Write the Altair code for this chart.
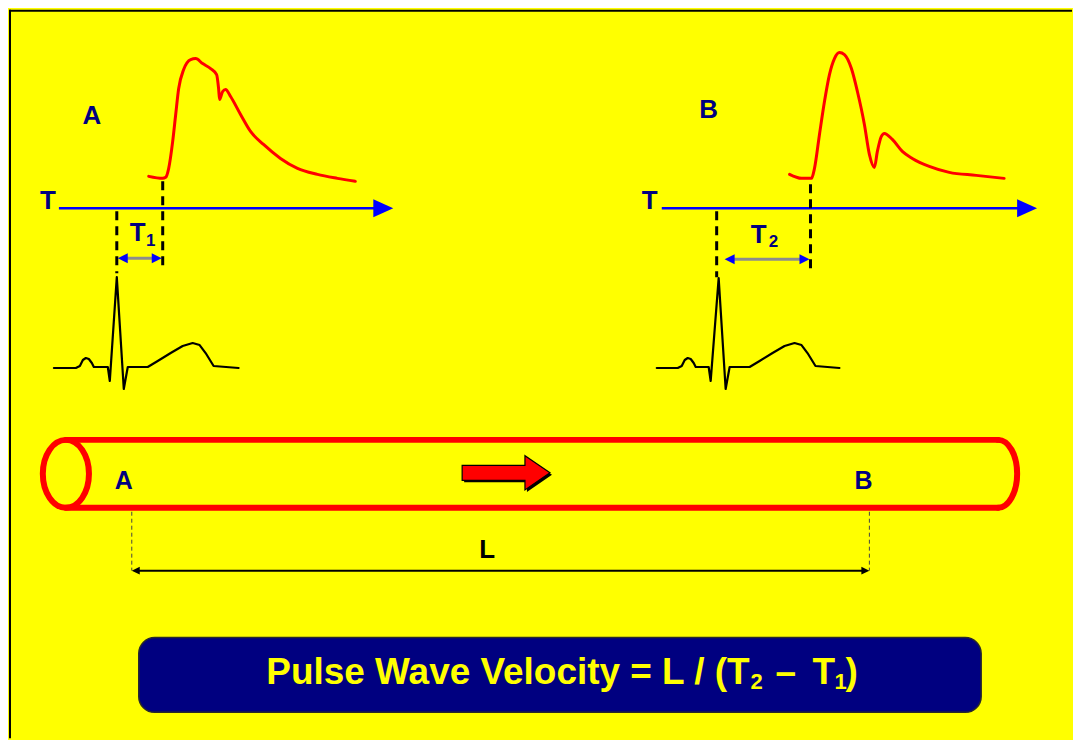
import altair as alt
import pandas as pd

# ---------------- values (slide pixel space) ----------------
# pressure pulse recorded at site A
pulse_a_x = [148, 162, 165, 168, 172, 175, 178, 183, 190, 195, 202, 210, 216, 218, 219, 222, 225, 230, 240, 250, 263, 280, 297, 317, 337, 355]
pulse_a_y = [175, 177, 176, 167, 140, 113, 87, 68, 58, 57, 62, 67, 73, 87, 98, 90, 88, 95, 113, 130, 143, 157, 167, 173, 177, 180]
# pressure pulse recorded at site B
pulse_b_x = [790, 802, 812, 815, 820, 825, 830, 835, 840, 845, 852, 858, 865, 870, 875, 878, 882, 885, 893, 903, 913, 930, 950, 977, 1005]
pulse_b_y = [173, 177, 177, 167, 133, 100, 73, 57, 51, 53, 67, 90, 123, 153, 166, 150, 135, 132, 138, 150, 157, 165, 171, 174, 177]
# ECG traces
ecg_a_x = [53, 75, 79, 82, 85, 88, 91, 93, 107, 109, 116, 123, 127, 147, 157, 170, 182, 192, 199, 205, 213, 238]
ecg_a_y = [367, 367, 365, 359, 357, 358, 362, 366, 366, 380, 276, 388, 366, 366, 360, 352, 345, 342, 344, 352, 365, 367]
ecg_b_x = [657, 678, 682, 685, 688, 691, 694, 696, 709, 711, 719, 726, 730, 750, 760, 773, 785, 795, 802, 808, 816, 840]
ecg_b_y = [367, 367, 365, 359, 357, 358, 362, 366, 366, 380, 277, 388, 366, 366, 360, 352, 345, 342, 344, 352, 365, 367]

# time axes (start x, end x, y, arrow-head centre x)
axis_x1 = [58, 662]
axis_x2 = [375, 1020]
axis_y = [207, 207]
axis_head_x = [383, 1028]

# dashed drop lines (x, y top, y bottom)
drop_x = [116, 162, 717, 811]
drop_y1 = [210, 180, 210, 183]
drop_y2 = [272, 268, 276, 268]

# T1 / T2 interval arrows (left tip, right tip, y)
int_x1 = [117, 725]
int_x2 = [161, 810]
int_y = [257, 258]

# vessel (tube)
tube_x1 = 65
tube_x2 = 999
tube_top = 439
tube_bottom = 507
tube_mid = 473
flow_arrow_x = 506
flow_arrow_y = 472

# length L
l_x1, l_x2, l_y, l_guide_top = 131, 870, 570, 511

# formula box
box_x1, box_x2, box_y1, box_y2 = 138, 982, 637, 712

# labels: text, x, y(baseline), size, colour
navy = "#000080"
label_text = ["A", "B", "T", "T", "T", "T", "1", "2", "A", "B", "L"]
label_x = [91, 709, 47, 650, 137, 759, 150, 774, 123, 864, 487]
label_y = [123, 117, 208, 208, 240, 242, 245, 246, 488, 488, 557]
label_size = [26, 26, 26, 26, 26, 26, 17, 17, 25, 25, 26]
label_color = [navy] * 10 + ["#000000"]

formula_text = ["Pulse Wave Velocity = L / (T", "2", "\u2013", "T", "1", ")"]
formula_x = [750, 751, 776, 813, 835, 846]
formula_y = [684, 689, 684, 684, 689, 684]
formula_size = [37, 22, 37, 37, 22, 37]
formula_align = ["right", "left", "left", "left", "left", "left"]

# ---------------- chart construction ----------------
W, H = 1065, 730
xs = alt.Scale(domain=[8, 8 + W], nice=False, zero=False)
ys = alt.Scale(domain=[8 + H, 8], nice=False, zero=False)
FONT = "Liberation Sans"


def enc_xy(x="x", y="y"):
    return dict(x=alt.X(f"{x}:Q", scale=xs, axis=None), y=alt.Y(f"{y}:Q", scale=ys, axis=None))


def rules(df, **mark):
    return alt.Chart(df).mark_rule(**mark).encode(**enc_xy(), x2="x2:Q", y2="y2:Q")


def points(df, shape, size, **mark):
    return alt.Chart(df).mark_point(shape=shape, size=size, opacity=1, **mark).encode(**enc_xy())


def curve(xv, yv, color, width, interp):
    df = pd.DataFrame({"x": xv, "y": yv, "i": range(len(xv))})
    return alt.Chart(df).mark_line(color=color, strokeWidth=width, interpolate=interp,
                                   strokeJoin="round", strokeCap="round").encode(
        **enc_xy(), order="i:Q")


RIGHT_TRI = "M -1 -0.9 L 1 0 L -1 0.9 Z"
LEFT_TRI = "M 1 -1 L -1 0 L 1 1 Z"
RIGHT_TRI2 = "M -1 -1 L 1 0 L -1 1 Z"

layers = []

# border of the slide (top and left)
layers.append(rules(pd.DataFrame({"x": [8, 9], "x2": [8 + W, 9], "y": [9, 8], "y2": [9, 8 + H]}),
                    color="#000000", strokeWidth=2))

# time axes + heads
layers.append(rules(pd.DataFrame({"x": axis_x1, "x2": axis_x2, "y": axis_y, "y2": axis_y}),
                    color="#0000FF", strokeWidth=2.5))
layers.append(points(pd.DataFrame({"x": axis_head_x, "y": axis_y}), RIGHT_TRI, 400,
                     filled=True, color="#0000FF", strokeWidth=0))

# dashed drop lines
layers.append(rules(pd.DataFrame({"x": drop_x, "x2": drop_x, "y": drop_y1, "y2": drop_y2}),
                    color="#000000", strokeWidth=3, strokeDash=[9, 6]))

# T1 / T2 interval arrows
layers.append(rules(pd.DataFrame({"x": [a + 5 for a in int_x1], "x2": [b - 5 for b in int_x2],
                                  "y": int_y, "y2": int_y}),
                    color="#8C8C8C", strokeWidth=3))
layers.append(points(pd.DataFrame({"x": [a + 5 for a in int_x1], "y": int_y}), LEFT_TRI, 100,
                     filled=True, color="#0000FF", strokeWidth=0))
layers.append(points(pd.DataFrame({"x": [b - 5 for b in int_x2], "y": int_y}), RIGHT_TRI2, 100,
                     filled=True, color="#0000FF", strokeWidth=0))

# pulse waves and ECGs
layers.append(curve(pulse_a_x, pulse_a_y, "#FF0000", 3, "monotone"))
layers.append(curve(pulse_b_x, pulse_b_y, "#FF0000", 3, "monotone"))
layers.append(curve(ecg_a_x, ecg_a_y, "#000000", 2.2, "linear"))
layers.append(curve(ecg_b_x, ecg_b_y, "#000000", 2.2, "linear"))

# tube
layers.append(points(pd.DataFrame({"x": [tube_x1], "y": [tube_mid]}),
                     "M 0 -1 A 0.68 1 0 1 1 0 1 A 0.68 1 0 1 1 0 -1 Z", 4624,
                     filled=False, color="#FF0000", strokeWidth=6))
layers.append(points(pd.DataFrame({"x": [tube_x2], "y": [tube_mid]}),
                     "M 0 -1 A 0.56 1 0 0 1 0 1", 4624,
                     filled=False, color="#FF0000", strokeWidth=6, strokeCap="round"))
layers.append(rules(pd.DataFrame({"x": [tube_x1, tube_x1], "x2": [tube_x2, tube_x2],
                                  "y": [tube_top, tube_bottom], "y2": [tube_top, tube_bottom]}),
                    color="#FF0000", strokeWidth=6, strokeCap="round"))

# flow arrow (shadow + arrow)
ARROW = "M -1 -0.17 L 0.43 -0.17 L 0.43 -0.39 L 1 0 L 0.43 0.39 L 0.43 0.17 L -1 0.17 Z"
layers.append(points(pd.DataFrame({"x": [flow_arrow_x + 2], "y": [flow_arrow_y + 2]}), ARROW, 7744,
                     filled=True, color="#000000", strokeWidth=0))
layers.append(points(pd.DataFrame({"x": [flow_arrow_x], "y": [flow_arrow_y]}), ARROW, 7744,
                     filled=True, fill="#FF0000", stroke="#000000", strokeWidth=1.2))

# length L
layers.append(rules(pd.DataFrame({"x": [l_x1, l_x2], "x2": [l_x1, l_x2],
                                  "y": [l_guide_top, l_guide_top], "y2": [l_y, l_y]}),
                    color="#444444", strokeWidth=1, strokeDash=[4, 3]))
layers.append(rules(pd.DataFrame({"x": [l_x1 + 4], "x2": [l_x2 - 4], "y": [l_y], "y2": [l_y]}),
                    color="#000000", strokeWidth=2))
layers.append(points(pd.DataFrame({"x": [l_x1 + 4], "y": [l_y]}), LEFT_TRI, 64,
                     filled=True, color="#000000", strokeWidth=0))
layers.append(points(pd.DataFrame({"x": [l_x2 - 4], "y": [l_y]}), RIGHT_TRI2, 64,
                     filled=True, color="#000000", strokeWidth=0))

# formula box
box = pd.DataFrame({"x": [box_x1], "x2": [box_x2], "y": [box_y1], "y2": [box_y2]})
layers.append(alt.Chart(box).mark_rect(cornerRadius=16, fill="#000080", stroke="#2a2a2a",
                                        strokeWidth=1.5).encode(**enc_xy(), x2="x2:Q", y2="y2:Q"))

# labels
lab = pd.DataFrame({"t": label_text, "x": label_x, "y": label_y, "s": label_size, "c": label_color})
layers.append(alt.Chart(lab).mark_text(font=FONT, fontWeight="bold", align="center",
                                       baseline="alphabetic").encode(
    **enc_xy(), text="t:N", size=alt.Size("s:Q", scale=None, legend=None),
    color=alt.Color("c:N", scale=None, legend=None)))

# formula text
form = pd.DataFrame({"t": formula_text, "x": formula_x, "y": formula_y, "s": formula_size,
                     "a": formula_align})
for al in ["right", "left"]:
    layers.append(alt.Chart(form[form["a"] == al]).mark_text(
        font=FONT, fontWeight="bold", align=al, baseline="alphabetic", color="#FFFF00").encode(
        **enc_xy(), text="t:N", size=alt.Size("s:Q", scale=None, legend=None)))

chart = alt.layer(*layers).properties(width=W, height=H, padding=0, background="#FFFF00").configure_view(
    stroke=None)

chart.save("out.html", embed_options={"renderer": "svg", "actions": False})
